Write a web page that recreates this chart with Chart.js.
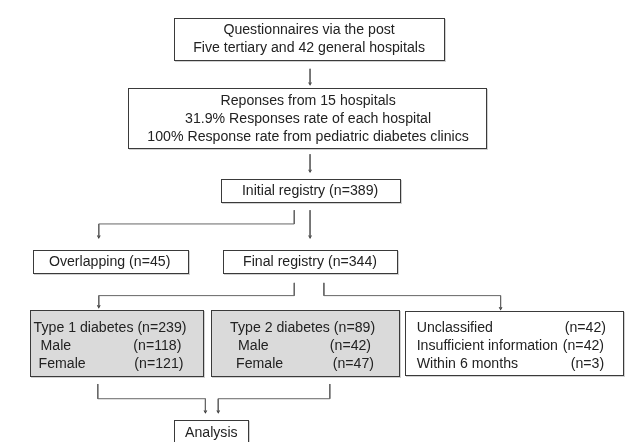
<!DOCTYPE html>
<html>
<head>
<meta charset="utf-8">
<script src="https://cdn.jsdelivr.net/npm/chart.js@4"></script>
<style>
  html, body { margin: 0; padding: 0; background: #fff; }
  #wrap { width: 629px; height: 442px; }
</style>
</head>
<body>
<div id="wrap"><canvas id="flowChart" width="629" height="442"></canvas></div>
<script>
//========== data ==========//
const surveyLines = ['Questionnaires via the post', 'Five tertiary and 42 general hospitals'];
const respondingHospitals = 15;
const hospitalResponseRate = 31.9;
const pediatricResponseRate = 100;
const initialN = 389;
const overlapN = 45;
const finalN = 344;
const type1N = 239;
const type2N = 89;
const sexLabels = ['Male', 'Female'];
const type1SexN = [118, 121];
const type2SexN = [42, 47];
const excludedLabels = ['Unclassified', 'Insufficient information', 'Within 6 months'];
const excludedN = [42, 42, 3];

//========== layout (canvas units, y down) ==========//
const boxes = [
    { r: [172, 446, 14, 57], lines: [[surveyLines[0], 309, 'center', 26.5], [surveyLines[1], 309, 'center', 44.5]] },
    { r: [126, 488, 86, 147], lines: [
        ['Reponses from ' + respondingHospitals + ' hospitals', 308, 'center', 98],
        [hospitalResponseRate + '% Responses rate of each hospital', 308, 'center', 116.5],
        [pediatricResponseRate + '% Response rate from pediatric diabetes clinics', 308, 'center', 135]] },
    { r: [220, 401, 178, 202], lines: [['Initial registry (n=' + initialN + ')', 310, 'center', 190]] },
    { r: [29, 186, 251, 274], lines: [['Overlapping (n=' + overlapN + ')', 107, 'center', 262.5]] },
    { r: [222, 398, 251, 274], lines: [['Final registry (n=' + finalN + ')', 310, 'center', 262.5]] },
    { r: [26, 202, 312, 379], fill: '#dadada', lines: [
        ['Type 1 diabetes (n=' + type1N + ')', 30, 'left', 330],
        [sexLabels[0], 37, 'left', 348], ['(n=' + type1SexN[0] + ')', 131, 'left', 348],
        [sexLabels[1], 35, 'left', 366], ['(n=' + type1SexN[1] + ')', 132, 'left', 366]] },
    { r: [210, 400, 312, 379], fill: '#dadada', lines: [
        ['Type 2 diabetes (n=' + type2N + ')', 229, 'left', 330],
        [sexLabels[0], 237, 'left', 348], ['(n=' + type2SexN[0] + ')', 330, 'left', 348],
        [sexLabels[1], 235, 'left', 366], ['(n=' + type2SexN[1] + ')', 333, 'left', 366]] },
    { r: [406, 627, 313, 378], lines: [
        [excludedLabels[0], 418, 'left', 330], ['(n=' + excludedN[0] + ')', 568, 'left', 330],
        [excludedLabels[1], 418, 'left', 348], ['(n=' + excludedN[1] + ')', 566, 'left', 348],
        [excludedLabels[2], 418, 'left', 366], ['(n=' + excludedN[2] + ')', 574, 'left', 366]] },
    { r: [172, 247, 424, 452], lines: [['Analysis', 210, 'center', 437]] }
];

const connectors = [
    [[310, 66], [310, 81]],
    [[310, 153], [310, 170]],
    [[294, 210], [294, 224], [96, 224], [96, 237]],
    [[310, 210], [310, 237]],
    [[294, 284], [294, 297], [96, 297], [96, 308]],
    [[324, 284], [324, 297], [503, 297], [503, 310]],
    [[95, 387], [95, 402], [204, 402], [204, 415]],
    [[330, 387], [330, 402], [217, 402], [217, 415]]
];

//========== datasets ==========//
const lineSets = connectors.map(c => ({
    data: c.map(p => ({ x: p[0], y: p[1] })),
    showLine: true,
    borderColor: '#666',
    borderWidth: 1,
    pointRadius: 0,
    clip: false
}));
const heads = {
    data: connectors.map(c => ({ x: c[c.length - 1][0], y: c[c.length - 1][1] })),
    showLine: false,
    pointStyle: 'triangle',
    rotation: 180,
    pointRadius: 2.2,
    backgroundColor: '#333',
    borderColor: '#333',
    borderWidth: 0,
    clip: false
};

const fontFam = '"Liberation Sans", Arial, sans-serif';

// boxes + text drawn through the scales
const boxPlugin = {
    id: 'boxes',
    beforeDatasetsDraw(chart) {
        const ctx = chart.ctx;
        const xs = chart.scales.x, ys = chart.scales.y;
        ctx.save();
        boxes.forEach(b => {
            const x0 = Math.round(xs.getPixelForValue(b.r[0])) + 0.5;
            const x1 = Math.round(xs.getPixelForValue(b.r[1])) + 0.5;
            const y0 = Math.round(ys.getPixelForValue(b.r[2])) + 0.5;
            const y1 = Math.round(ys.getPixelForValue(b.r[3])) + 0.5;
            // soft shadow
            ctx.strokeStyle = 'rgba(0,0,0,0.18)';
            ctx.lineWidth = 1;
            ctx.strokeRect(x0 + 1, y0 + 1, x1 - x0, y1 - y0);
            ctx.fillStyle = b.fill || '#fff';
            ctx.fillRect(x0, y0, x1 - x0, y1 - y0);
            ctx.strokeStyle = '#3a3a3a';
            ctx.lineWidth = 1;
            ctx.strokeRect(x0, y0, x1 - x0, y1 - y0);
            ctx.fillStyle = '#222';
            ctx.textBaseline = 'middle';
            b.lines.forEach(l => {
                // narrow-looking text: 15.5px glyphs squeezed to 14px width
                ctx.font = '14px ' + fontFam;
                const w = ctx.measureText(l[0]).width * 1.01;
                ctx.font = '15.5px ' + fontFam;
                ctx.textAlign = l[2];
                ctx.fillText(l[0], xs.getPixelForValue(l[1]), ys.getPixelForValue(l[3]), w);
            });
        });
        ctx.restore();
    }
};

const config = {
    type: 'scatter',
    data: { datasets: lineSets.concat([heads]) },
    options: {
        responsive: false,
        animation: false,
        layout: { padding: 0 },
        scales: {
            x: { type: 'linear', min: 0, max: 629, display: false },
            y: { type: 'linear', min: 0, max: 442, reverse: true, display: false }
        },
        plugins: { legend: { display: false }, tooltip: { enabled: false } }
    },
    plugins: [boxPlugin]
};

const flowChart = new Chart(document.getElementById('flowChart'), config);
</script>
</body>
</html>
